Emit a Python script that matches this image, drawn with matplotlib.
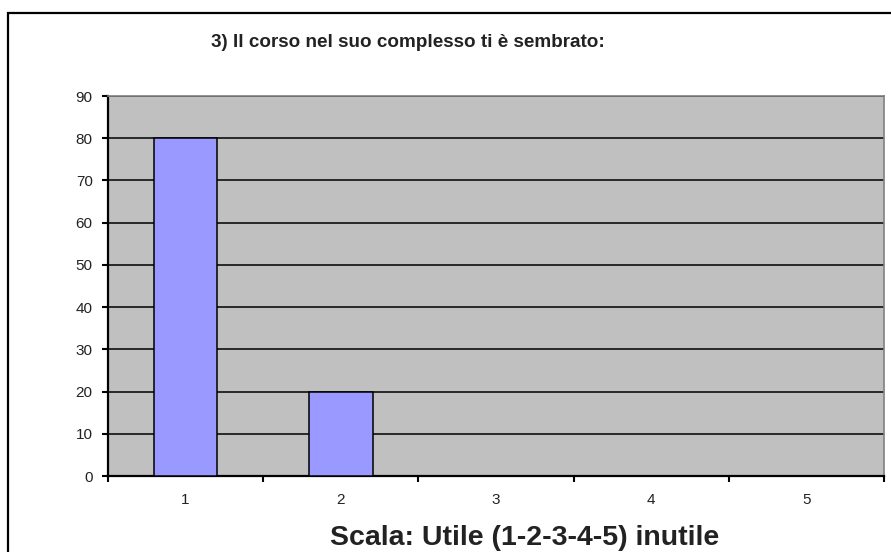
import matplotlib.pyplot as plt
from matplotlib.patches import Rectangle

categories = ["1", "2", "3", "4", "5"]
values = [80, 20, 0, 0, 0]
yticks = [0, 10, 20, 30, 40, 50, 60, 70, 80, 90]
title = "3) Il corso nel suo complesso ti è sembrato:"
xlabel = "Scala: Utile (1-2-3-4-5) inutile"

plt.rcParams['font.family'] = ['Liberation Sans', 'DejaVu Sans']

fig = plt.figure(figsize=(8.91, 5.52), dpi=100)
ax = fig.add_axes([108/891, 1 - 476/552, (884 - 108)/891, (476 - 96)/552])
ax.set_facecolor('#C0C0C0')

x = list(range(1, len(categories) + 1))
ax.bar(x, values, width=0.41, color='#9999FF', edgecolor='black', linewidth=1.1, zorder=3)

ax.set_xlim(0.5, len(categories) + 0.5)
ax.set_ylim(0, 90)
ax.set_yticks(yticks)
ax.set_yticklabels([str(t) for t in yticks])
ax.yaxis.grid(True, color='black', linewidth=1.1, zorder=1)
ax.set_axisbelow(True)

# category boundaries carry the tick marks, labels sit in the middle
ax.set_xticks([i + 0.5 for i in range(0, len(categories) + 1)])
ax.set_xticklabels([])
ax.set_xticks(x, minor=True)
ax.set_xticklabels(categories, minor=True)
ax.tick_params(axis='x', which='minor', length=0, pad=12, labelsize=11, labelcolor='#222222')
ax.tick_params(axis='x', which='major', length=4, width=1.5, direction='out')
ax.tick_params(axis='y', length=4, width=1.5, direction='out', pad=7, labelsize=11, labelcolor='#222222')

for s in ['left', 'bottom']:
    ax.spines[s].set_linewidth(1.6)
    ax.spines[s].set_color('black')
for s in ['top', 'right']:
    ax.spines[s].set_linewidth(1.2)
    ax.spines[s].set_color('#808080')

fig.text(408/891, 1 - 47/552, title, ha='center', va='baseline', fontsize=13.6, fontweight='bold', color='#222222')
fig.text(525/891, 1 - 545/552, xlabel, ha='center', va='baseline', fontsize=20.5, fontweight='bold', color='#222222')

# outer chart border (cropped on the right and bottom)
fig.patches.append(Rectangle((8/891, -0.05), 1.0, 1 - 13/552 + 0.05, transform=fig.transFigure,
                             fill=False, edgecolor='black', linewidth=1.6))

fig.savefig('out.png', dpi=100)
